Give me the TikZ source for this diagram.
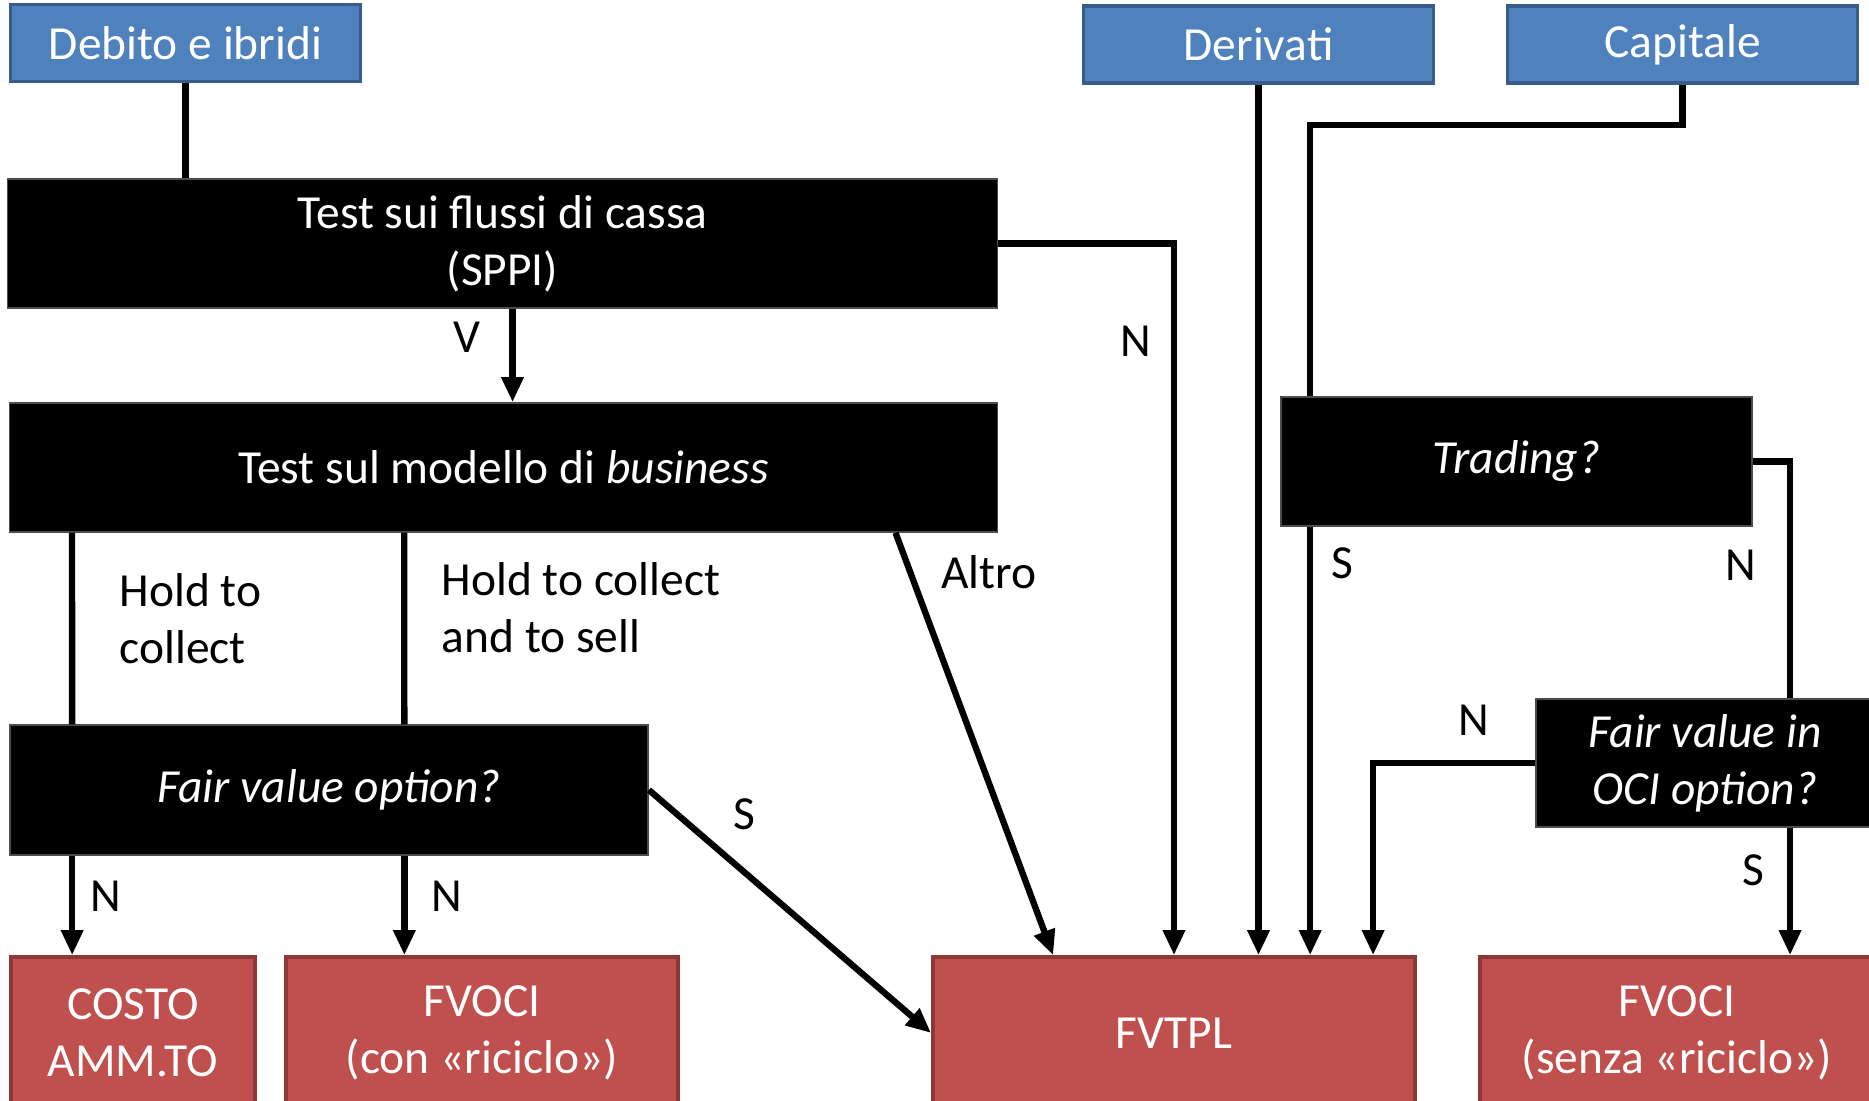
\documentclass[tikz,border=0pt]{standalone}
\usepackage{fontspec}
\setmainfont{Carlito}
\usepackage{xcolor}
\usetikzlibrary{arrows.meta,positioning}

\definecolor{srcblue}{HTML}{4F81BD}
\definecolor{srcedge}{HTML}{385D8A}
\definecolor{resred}{HTML}{C0504D}
\definecolor{resedge}{HTML}{8C3836}

\begin{document}
\begin{tikzpicture}[
    x=0.01cm, y=-0.01cm,
    txt/.style={font=\fontsize{13.5}{16.2}\selectfont},
    source/.style={txt, rectangle, draw=srcedge, line width=1pt, fill=srcblue, text=white, minimum width=3.5cm, minimum height=0.77cm, align=center},
    test/.style={txt, rectangle, draw=black!70, fill=black, text=white, minimum height=1.29cm, align=center},
    result/.style={txt, rectangle, draw=resedge, line width=1pt, fill=resred, text=white, minimum height=1.52cm, align=center},
    lbl/.style={txt, inner sep=0pt},
    line/.style={line width=1.8pt},
    arrow/.style={line, -{Triangle[length=0.25cm, width=0.21cm]}}
]
\useasboundingbox (0,0) rectangle (1869,1101);

% sources
\node[source] (deb) at (185.5,43) {Debito e ibridi};
\node[source] (der) at (1258.5,44.5) {Derivati};
\node[source] (cap) at (1682.5,44.5) {Capitale};

% tests
\node[test, minimum width=9.89cm] (flussi) at (502.5,243.5) {Test sui flussi di cassa\\(SPPI)};
\node[test, minimum width=9.87cm] (modello) at (503.5,467.5) {Test sul modello di \textit{business}};
\node[test, minimum width=6.38cm, minimum height=1.3cm] (fvo) at (329,790) {\textit{Fair value option?}};
\node[test, minimum width=4.71cm] (trading) at (1516.5,461.5) {\textit{Trading?}};
\node[test, minimum width=3.38cm, minimum height=1.28cm] (oci) at (1705,763) {\textit{Fair value in}\\\textit{OCI option?}};

% results
\node[result, minimum width=2.44cm] (costo) at (133,1033) {COSTO\\AMM.TO};
\node[result, minimum width=3.92cm] (fvocicon) at (482,1033) {FVOCI\\(con «riciclo»)};
\node[result, minimum width=4.82cm] (fvtpl) at (1174,1033) {FVTPL};
\node[result, minimum width=3.94cm] (fvocisenza) at (1677,1033) {FVOCI\\(senza «riciclo»)};

% connectors
\draw[line] (deb.south) -- (deb.south |- flussi.north);
\draw[arrow] ([xshift=0.1cm]flussi.south) -- ([xshift=0.1cm]flussi.south |- modello.north);
\draw[arrow] (flussi.east) -| (fvtpl.north);
\draw[arrow] (der.south) -- (der.south |- fvtpl.north);
\draw[line] (cap.south) -- ++(0,40) -| ([xshift=0.3cm]trading.north west);
\draw[arrow] ([xshift=0.3cm]trading.south west) -- ([xshift=0.3cm]trading.south west |- fvtpl.north);
\draw[line] (trading.east) -| ([xshift=0.85cm]oci.north);
\draw[arrow] (oci.west) -| ([xshift=1.99cm]fvtpl.north);
\draw[arrow] ([xshift=0.85cm]oci.south) -- ([xshift=0.85cm]oci.south |- fvocisenza.north);

\draw[line] ([xshift=0.63cm]modello.south west) -- ([xshift=0.63cm]fvo.north west);
\draw[line] ([xshift=3.95cm]modello.south west) -- ([xshift=3.95cm]fvo.north west);
\draw[arrow] ([xshift=8.86cm]modello.south west) -- ([xshift=1.22cm]fvtpl.north west);
\draw[arrow] ([xshift=0.63cm]fvo.south west) -- ([xshift=0.63cm]fvo.south west |- costo.north);
\draw[arrow] ([xshift=3.95cm]fvo.south west) -- ([xshift=3.95cm]fvo.south west |- fvocicon.north);
\draw[arrow] (fvo.east) -- (fvtpl.west);

% labels
\node[lbl] (lv) at (467,337) {V};
\node[lbl] (lflussin) at (1136,341) {N};
\node[lbl, anchor=west, align=left] (lhtc) at (119,619) {Hold to\\collect};
\node[lbl, anchor=west, align=left] (lhtcs) at (441,608) {Hold to collect\\and to sell};
\node[lbl] (laltro) at (989,572) {Altro};
\node[lbl] (lfvon1) at (106,896) {N};
\node[lbl] (lfvon2) at (447,896) {N};
\node[lbl] (lfvos) at (744,814) {S};
\node[lbl] (ltrads) at (1342,563) {S};
\node[lbl] (ltradn) at (1741,565) {N};
\node[lbl] (locin) at (1474,720) {N};
\node[lbl] (locis) at (1753,870) {S};
\end{tikzpicture}
\end{document}
